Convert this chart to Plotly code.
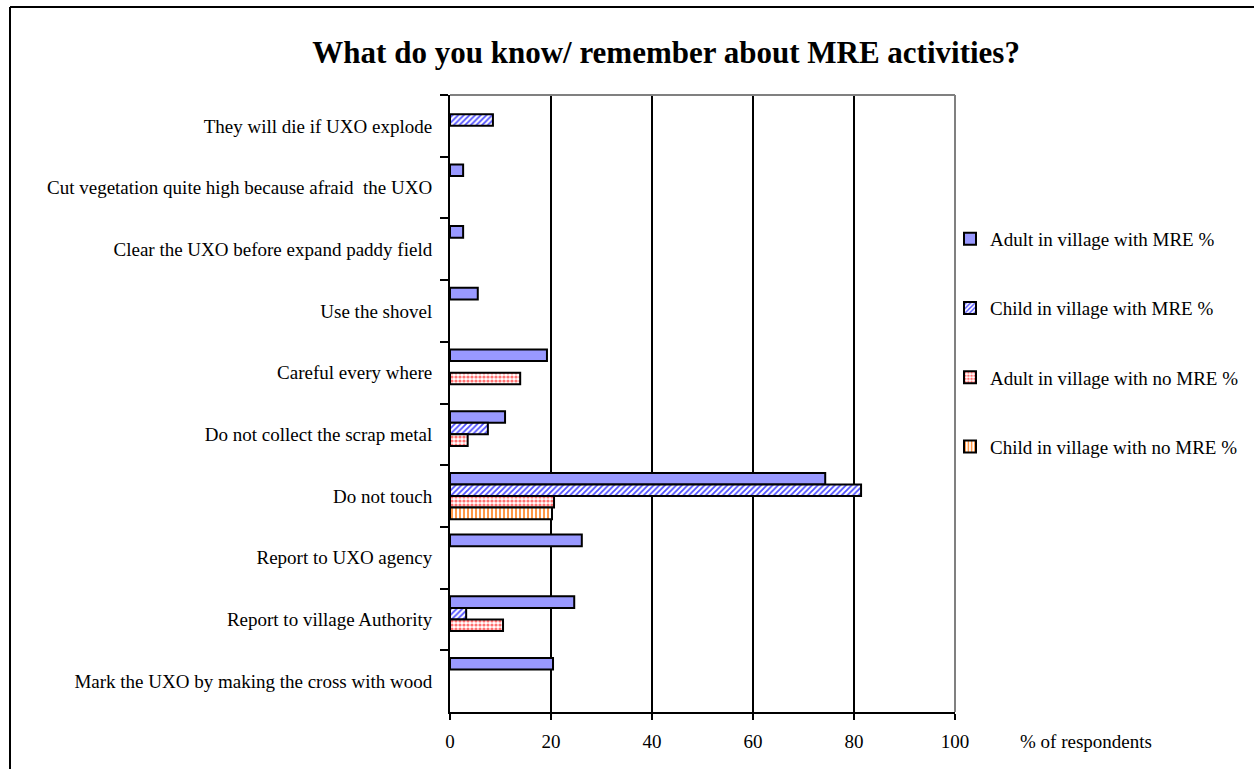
import plotly.graph_objects as go

# Survey answers, listed top to bottom
categories = [
    "They will die if UXO explode",
    "Cut vegetation quite high because afraid  the UXO",
    "Clear the UXO before expand paddy field",
    "Use the shovel",
    "Careful every where",
    "Do not collect the scrap metal",
    "Do not touch",
    "Report to UXO agency",
    "Report to village Authority",
    "Mark the UXO by making the cross with wood",
]

# % of respondents per group (None = no answer recorded)
adult_mre = [None, 2.6, 2.6, 5.5, 19.2, 10.9, 74.3, 26.1, 24.6, 20.4]
child_mre = [8.5, None, None, None, None, 7.5, 81.4, None, 3.2, None]
adult_no_mre = [None, None, None, None, 13.9, 3.5, 20.6, None, 10.5, None]
child_no_mre = [None, None, None, None, None, None, 20.2, None, None, None]

x_ticks = [0, 20, 40, 60, 80, 100]

FONT = "Liberation Serif, Times New Roman, serif"
FS = 19

series = [
    ("Adult in village with MRE %", adult_mre, dict(color="#9999FF")),
    ("Child in village with MRE %", child_mre,
     dict(color="white", pattern=dict(shape="/", fgcolor="#4D4DFF", bgcolor="white",
                                      size=4, solidity=0.45, fillmode="replace"))),
    ("Adult in village with no MRE %", adult_no_mre,
     dict(color="white", pattern=dict(shape=".", fgcolor="#FF7070", bgcolor="white",
                                      size=4, solidity=0.5, fillmode="replace"))),
    ("Child in village with no MRE %", child_no_mre,
     dict(color="white", pattern=dict(shape="|", fgcolor="#FF7F1A", bgcolor="white",
                                      size=4, solidity=0.4, fillmode="replace"))),
]

fig = go.Figure()
for i, (name, vals, marker) in enumerate(series):
    marker = dict(marker)
    marker["line"] = dict(color="black", width=2)
    fig.add_trace(go.Bar(
        y=categories, x=vals, name=name, orientation="h",
        marker=marker, legendgroup=f"g{i}",
    ))

fig.update_layout(
    width=1254, height=769,
    margin=dict(l=450, r=299, t=95, b=57, autoexpand=False),
    paper_bgcolor="white", plot_bgcolor="white",
    barmode="group", bargap=0.25, bargroupgap=0,
    font=dict(family=FONT, size=FS, color="black"),
    title=dict(
        text="<b>What do you know/ remember about MRE activities?</b>",
        font=dict(family=FONT, size=31, color="black"),
        x=0.428, xref="paper", xanchor="center",
        y=1 - 52 / 769, yref="container", yanchor="middle",
    ),
    legend=dict(
        x=(950 - 450) / 505, xanchor="left", y=(712 - 220) / 617, yanchor="top",
        font=dict(family=FONT, size=FS, color="black"),
        tracegroupgap=41.5, bgcolor="rgba(0,0,0,0)",
        traceorder="grouped", itemwidth=30,
    ),
    showlegend=True,
)

fig.update_xaxes(
    range=[0, 100], tickvals=x_ticks, ticktext=[str(v) for v in x_ticks],
    showgrid=True, gridcolor="black", gridwidth=2,
    showline=True, linecolor="black", linewidth=2,
    ticks="outside", ticklen=6, tickcolor="black", tickwidth=2,
    zeroline=False, fixedrange=True, ticklabelstandoff=5,
    tickfont=dict(family=FONT, size=FS, color="black"),
)
fig.update_yaxes(
    type="category", categoryorder="array", categoryarray=categories,
    autorange="reversed", tickson="boundaries",
    showline=True, linecolor="black", linewidth=2,
    ticks="outside", ticklen=8, tickcolor="black", tickwidth=2,
    showgrid=False, zeroline=False, fixedrange=True,
    ticklabelstandoff=12,
    tickfont=dict(family=FONT, size=FS, color="black"),
)

# Gray top and right plot border
fig.add_shape(type="line", xref="paper", yref="paper", x0=0, x1=1, y0=1, y1=1,
              line=dict(color="#808080", width=2))
fig.add_shape(type="line", xref="paper", yref="paper", x0=1, x1=1, y0=0, y1=1,
              line=dict(color="#808080", width=2))

# Outer chart frame (top and left edges)
fx0 = (10 - 450) / 505
fy_top = (712 - 7) / 617
fy_bot = (712 - 769) / 617
fig.add_shape(type="line", xref="paper", yref="paper", x0=fx0, x1=2, y0=fy_top, y1=fy_top,
              line=dict(color="black", width=2))
fig.add_shape(type="line", xref="paper", yref="paper", x0=fx0, x1=fx0, y0=fy_bot, y1=fy_top,
              line=dict(color="black", width=2))

fig.add_annotation(
    text="% of respondents", xref="paper", yref="paper",
    x=(1018 - 450) / 505, y=(712 - 741) / 617, xanchor="left", yanchor="middle",
    showarrow=False, font=dict(family=FONT, size=FS, color="black"),
)

fig.write_html("out.html")
